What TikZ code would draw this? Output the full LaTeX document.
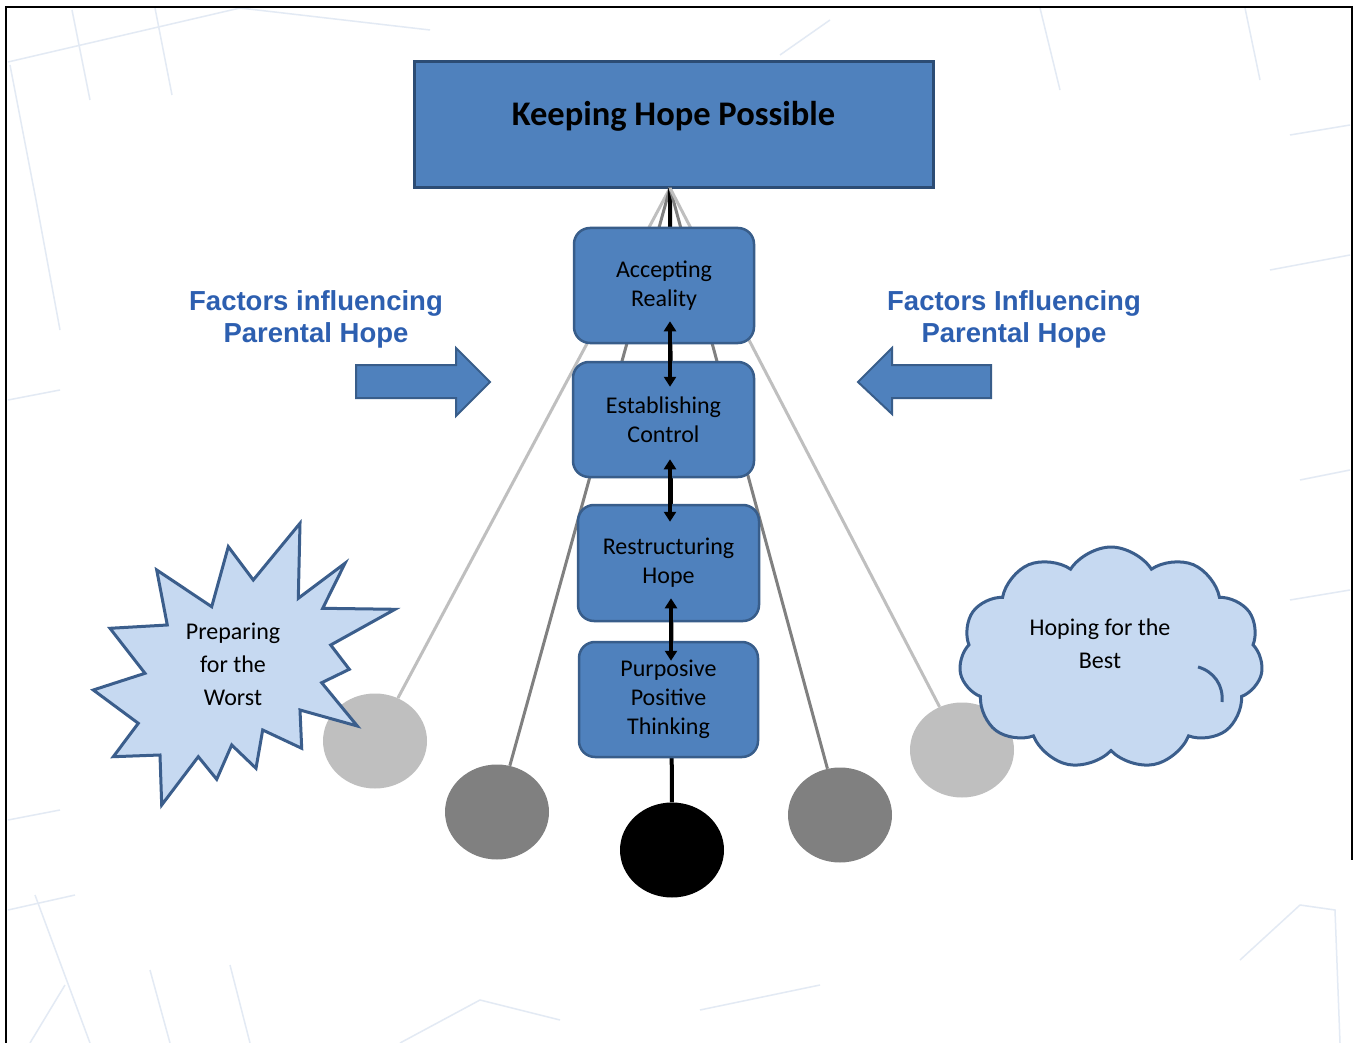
\documentclass[tikz,border=0pt]{standalone}
\usepackage{fontspec}
\setmainfont{Carlito}
\newfontfamily\arialfont{Liberation Sans}
\usetikzlibrary{shapes.geometric,shapes.symbols,arrows.meta}
\definecolor{boxfill}{HTML}{4F81BD}
\definecolor{boxline}{HTML}{385D8A}
\definecolor{topline}{HTML}{2C4C74}
\definecolor{lightfill}{HTML}{C6D9F1}
\definecolor{burstline}{HTML}{3B5E8C}
\definecolor{lgray}{HTML}{BFBFBF}
\definecolor{dgray}{HTML}{808080}
\definecolor{factblue}{HTML}{2D5FB0}
\definecolor{bgline}{HTML}{E3EAF4}
\begin{document}
\begin{tikzpicture}[x=1pt,y=-1pt,
  stage/.style={rectangle, rounded corners=16pt, fill=boxfill, draw=boxline, line width=2.5pt,
    minimum width=180pt, minimum height=115pt, align=center, inner sep=2pt,
    font=\fontsize{24}{29}\selectfont, text=black},
  topbox/.style={rectangle, fill=boxfill, draw=topline, line width=3pt,
    minimum width=519pt, minimum height=126pt},
  toptext/.style={font=\bfseries\fontsize{34.5}{40}\selectfont, text=black},
  factor/.style={align=center, font=\arialfont\bfseries\fontsize{27.5}{32}\selectfont, text=factblue},
  blockarrow/.style={fill=boxfill, draw=boxline, line width=2pt, line join=miter},
  dbl/.style={line width=4pt, {Triangle[width=12pt,length=10pt]}-{Triangle[width=12pt,length=10pt]}},
  ball/.style={ellipse, minimum width=104pt, minimum height=95pt, inner sep=0pt},
  lgline/.style={draw=lgray, line width=3pt},
  dgline/.style={draw=dgray, line width=3pt},
  bkline/.style={draw=black, line width=4pt},
  burst/.style={fill=lightfill, draw=burstline, line width=3pt, line join=miter},
  shapetext/.style={align=center, font=\fontsize{24}{33}\selectfont, text=black},
  bg/.style={draw=bgline, line width=1.5pt}
]
\useasboundingbox (0,0) rectangle (1358,1043);
\fill[white] (0,0) rectangle (1358,1043);

% faint background map lines
\draw[bg] (8,62) -- (240,8);
\draw[bg] (72,10) -- (90,100);
\draw[bg] (155,8) -- (172,95);
\draw[bg] (10,65) -- (36,200);
\draw[bg] (36,200) -- (60,330);
\draw[bg] (8,400) -- (60,390);
\draw[bg] (240,8) -- (430,30);
\draw[bg] (780,55) -- (830,20);
\draw[bg] (1040,8) -- (1060,90);
\draw[bg] (1245,8) -- (1260,80);
\draw[bg] (1290,135) -- (1350,125);
\draw[bg] (1270,270) -- (1350,255);
\draw[bg] (1300,480) -- (1350,470);
\draw[bg] (1290,600) -- (1350,590);
\draw[bg] (8,910) -- (75,895);
\draw[bg] (35,895) -- (90,1043);
\draw[bg] (65,985) -- (30,1043);
\draw[bg] (150,970) -- (170,1043);
\draw[bg] (230,965) -- (250,1043);
\draw[bg] (1300,905) -- (1335,910) -- (1340,1043);
\draw[bg] (1240,960) -- (1300,905);
\draw[bg] (400,1043) -- (480,1000) -- (560,1020);
\draw[bg] (700,1010) -- (820,985);
\draw[bg] (8,820) -- (60,810);

% frame
\draw[black, line width=1.2pt] (6,1043) -- (6,7) -- (1352,7) -- (1352,860);

% top box
\node[topbox] (top) at (673.5,125) {};
\node[toptext] (toplabel) at (673.5,116) {Keeping Hope Possible};
\coordinate (pivot) at (670,188);

% balls
\node[ball, fill=lgray] (b1) at (375,741) {};
\node[ball, fill=dgray] (b2) at (497,812) {};
\node[ball, fill=black] (b3) at (672,850) {};
\node[ball, fill=dgray] (b4) at (840,815) {};
\node[ball, fill=lgray] (b5) at (962,750) {};

% pendulum strings
\draw[lgline] (pivot) -- (b1);
\draw[dgline] (pivot) -- (b2);
\draw[bkline] (pivot) -- (b3);
\draw[dgline] (pivot) -- (b4);
\draw[lgline] (pivot) -- (b5);

% stage boxes
\node[stage] (s1) at (664,285.5) {Accepting\\Reality};
\node[stage, minimum width=181pt] (s2) at (663.5,419.5) {Establishing\\Control};
\node[stage, minimum width=181pt, minimum height=116pt] (s3) at (668.5,563) {Restructuring\\Hope};
\node[stage, minimum width=179pt] (s4) at (668.5,699.5) {Purposive\\Positive\\Thinking};

% double arrows between stages
\draw[dbl] ([xshift=6pt,yshift=23pt]s1.south) -- ([xshift=6.5pt,yshift=-26pt]s2.north);
\draw[dbl] ([xshift=6.5pt,yshift=19pt]s2.south) -- ([xshift=1.5pt,yshift=-18pt]s3.north);
\draw[dbl] ([xshift=2.5pt,yshift=24pt]s3.south) -- ([xshift=2.5pt,yshift=-20pt]s4.north);

% factors text
\node[factor] (f1) at (316,319) {Factors influencing\\Parental Hope};
\node[factor] (f2) at (1014,319) {Factors Influencing\\Parental Hope};

% block arrows
\draw[blockarrow] (356,365) -- (456,365) -- (456,348) -- (490,382) -- (456,416) -- (456,398) -- (356,398) -- cycle;
\draw[blockarrow] (991,365) -- (892,365) -- (892,348) -- (858,382) -- (892,414) -- (892,398) -- (991,398) -- cycle;

% starburst
\draw[burst] (156.7,570) -- (211.7,606.7) -- (228.3,546.7) -- (253.3,580) -- (300,523.3)
  -- (298.3,598.3) -- (345,563.3) -- (322.7,608.3) -- (395,609.3) -- (330.7,645)
  -- (349.3,669.3) -- (321.7,682.7) -- (357.3,726) -- (300,710) -- (301.7,748.3)
  -- (262.7,730) -- (256,768.3) -- (231.7,745) -- (216.7,779.3) -- (198.3,756.7)
  -- (161.7,805) -- (160,755) -- (113.3,756.7) -- (138.3,723.3) -- (93.3,690)
  -- (145,673.3) -- (110,628.3) -- (167.3,625) -- cycle;
\node[shapetext] (worst) at (233,664) {Preparing\\for the\\Worst};

% cloud
\node[cloud, cloud puffs=11, cloud puff arc=115, aspect=1.35, fill=lightfill, draw=burstline,
  line width=3pt, minimum width=304pt, minimum height=222pt, inner sep=0pt] (cloud) at (1111,658) {};
\draw[burstline, line width=3pt] (1198,667) to[bend left=40] (1222,702);
\node[shapetext] (best) at (1100,644) {Hoping for the\\Best};
\end{tikzpicture}
\end{document}
